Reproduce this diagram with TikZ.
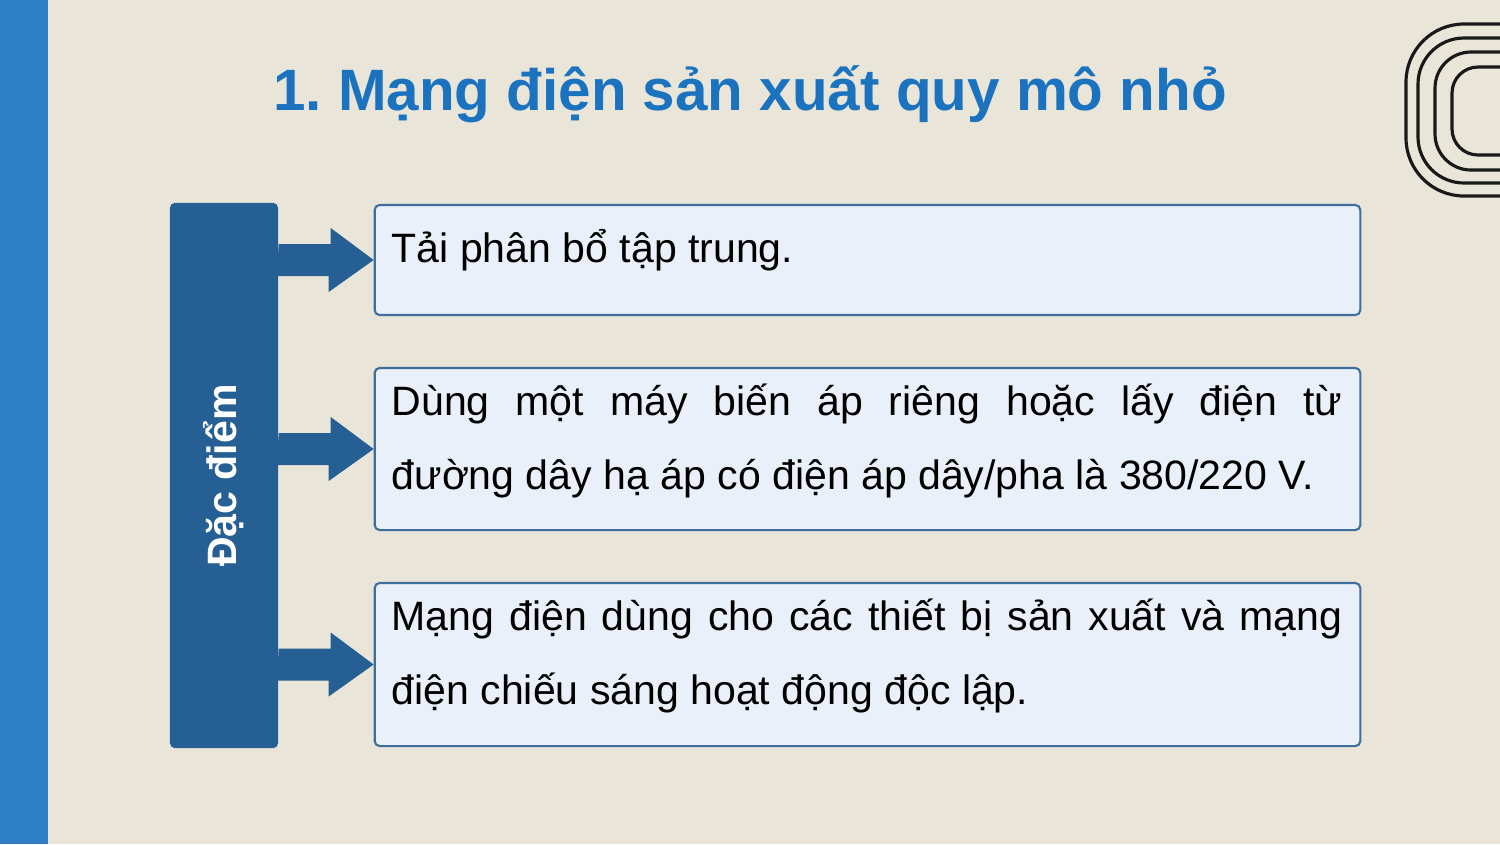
\documentclass[tikz,border=0pt]{standalone}
\usepackage{fontspec}
\setmainfont{Liberation Sans}
\usepackage{xcolor}
\usetikzlibrary{positioning,calc}
\definecolor{paper}{HTML}{E9E5D8}
\definecolor{stripe}{HTML}{2E7FC6}
\definecolor{titleblue}{HTML}{1B72BE}
\definecolor{darkblue}{HTML}{255F93}
\definecolor{boxfill}{HTML}{EAF0F9}
\definecolor{boxline}{HTML}{3D6E9E}

\begin{document}
\begin{tikzpicture}[x=0.01cm,y=-0.01cm,
  itembox/.style={draw=boxline,fill=boxfill,line width=0.6pt,rounded corners=1.4pt,
    minimum width=9.85cm,inner sep=0pt},
  itemtext/.style={text width=9.5cm,align=justify,inner sep=0pt,
    font=\fontsize{11.67}{21.3}\selectfont},
  ring/.style={draw=black!90,line width=0.9pt}]
\def\pagerect{(0,0) rectangle (1500,844)}
      \fill[paper] \pagerect;
      \fill[stripe] (0,0) rectangle (48,844);
      \useasboundingbox \pagerect;
% rings at the top right
      \begin{scope}
      \clip \pagerect;
      \foreach \l/\t/\b/\r in {1406/24/196/0.58cm, 1418/38/183/0.46cm, 1435/52/170/0.36cm, 1452/67/155/0.26cm}
        \draw[ring,rounded corners=\r] (1600,\t) -| (\l,\b) -- (1600,\b);
      \end{scope}
      \node[font=\fontsize{16.6}{20}\selectfont\bfseries,text=titleblue,anchor=base] (title) at (750,110) {1.\ Mạng điện sản xuất quy mô nhỏ};
% left block
      \node[fill=darkblue,rounded corners=1.4pt,minimum width=1.08cm,minimum height=5.45cm] (side) at (224,475.5) {};
      \node[rotate=90,text=white,font=\fontsize{11.67}{14}\selectfont\bfseries] (sidelabel) at (side.center) {Đặc điểm};
% boxes
      \node[itembox,minimum height=1.10cm] (b1) at (867.5,260) {};
      \node[itembox,minimum height=1.62cm] (b2) at (867.5,449) {};
      \node[itembox,minimum height=1.63cm] (b3) at (867.5,664.5) {};
      \node[itemtext] (t1) at (867,250) {Tải phân bổ tập trung.};
      \node[itemtext] (t2) at (867,441) {Dùng một máy biến áp riêng hoặc lấy điện từ\linebreak đường dây hạ áp có điện áp dây/pha là 380/220 V.};
      \node[itemtext] (t3) at (867,656) {Mạng điện dùng cho các thiết bị sản xuất và mạng\linebreak điện chiếu sáng hoạt động độc lập.};
% arrows
      \foreach \b in {b1,b2,b3}
        \fill[darkblue] (side.east |- \b.west) ++(0,-16) -- ++(52,0) -- ++(0,-16)
          -- (\b.west) -- ++(-45,32) -- ++(0,-16) -- ++(-52,0) -- cycle;
\end{tikzpicture}
\end{document}
